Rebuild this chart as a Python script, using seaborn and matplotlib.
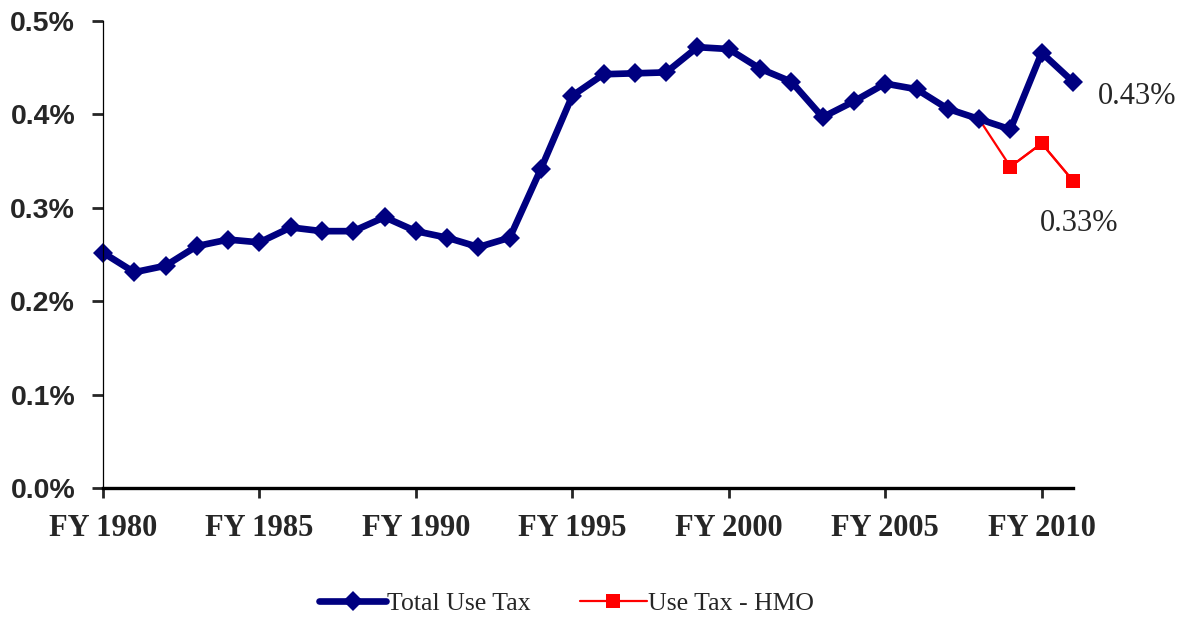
import numpy as np
import pandas as pd
import matplotlib
matplotlib.use("Agg")
import matplotlib.pyplot as plt
import seaborn as sns
from matplotlib.ticker import FuncFormatter

# Total use tax as share, fiscal years 1980-2011
years = list(range(1980, 2012))
total_use_tax = [0.252, 0.231, 0.238, 0.259, 0.266, 0.263, 0.279, 0.275,
                 0.275, 0.290, 0.275, 0.268, 0.258, 0.268, 0.342, 0.420,
                 0.443, 0.444, 0.445, 0.472, 0.470, 0.449, 0.435, 0.397,
                 0.414, 0.433, 0.427, 0.406, 0.395, 0.384, 0.466, 0.435]

hmo_years = [2008, 2009, 2010, 2011]
use_tax_hmo = [0.395, 0.344, 0.369, 0.329]

xtick_years = [1980, 1985, 1990, 1995, 2000, 2005, 2010]
ytick_vals = [0.0, 0.1, 0.2, 0.3, 0.4, 0.5]

df_total = pd.DataFrame({"year": years, "value": total_use_tax})
df_hmo = pd.DataFrame({"year": hmo_years, "value": use_tax_hmo})

sns.set_style("white")
plt.rcParams["font.family"] = ["Liberation Serif", "DejaVu Serif"]

fig = plt.figure(figsize=(11.89, 6.2), dpi=100)
ax = fig.add_axes([0.0866, 0.2129, 0.8158, 0.7532])

sns.lineplot(data=df_total, x="year", y="value", ax=ax, color="#000080",
             linewidth=4.8, marker="D", markersize=10.5, markeredgewidth=0,
             label="Total Use Tax", clip_on=False)
# hmo line starts at the 2008 point of the total line, no marker there
ax.plot(hmo_years, use_tax_hmo, color="#ff0000", linewidth=1.6, zorder=1,
        clip_on=False)
sns.lineplot(data=df_hmo.iloc[1:], x="year", y="value", ax=ax,
             color="#ff0000", linewidth=1.6, marker="s", markersize=10.5,
             markeredgewidth=0, label="Use Tax - HMO", clip_on=False)

ax.set_xlim(1980, 2011)
ax.set_ylim(0, 0.5)
ax.set_xticks(xtick_years)
ax.set_xticklabels([f"FY {y}" for y in xtick_years])
ax.set_yticks(ytick_vals)
ax.yaxis.set_major_formatter(FuncFormatter(lambda v, p: f"{v:.1f}%"))
ax.set_xlabel("")
ax.set_ylabel("")

for side in ["top", "right"]:
    ax.spines[side].set_visible(False)
ax.spines["left"].set_linewidth(0.9)
ax.spines["bottom"].set_linewidth(2.4)
ax.spines["left"].set_color("black")
ax.spines["bottom"].set_color("black")

ax.tick_params(axis="x", direction="out", length=7, width=2, pad=12,
               bottom=True)
ax.tick_params(axis="y", direction="out", length=8, width=2, pad=12,
               left=True)
for lab in ax.get_xticklabels():
    lab.set_fontfamily(["Liberation Serif"])
    lab.set_fontweight("bold")
    lab.set_fontsize(22)
for lab in ax.get_yticklabels():
    lab.set_fontfamily(["Liberation Sans"])
    lab.set_fontweight("bold")
    lab.set_fontsize(20.5)

ax.text(2011.8, total_use_tax[-1] - 0.016, "0.43%", fontsize=22,
        ha="left", va="center")
ax.text(2011.2, use_tax_hmo[-1] - 0.046, "0.33%", fontsize=22,
        ha="center", va="center")

ax.legend(loc="center", bbox_to_anchor=(0.478, -0.248), ncol=2, frameon=False,
          fontsize=18.5, handlelength=2.6, handletextpad=0.05,
          columnspacing=1.9)

fig.savefig("out.png", dpi=100)
